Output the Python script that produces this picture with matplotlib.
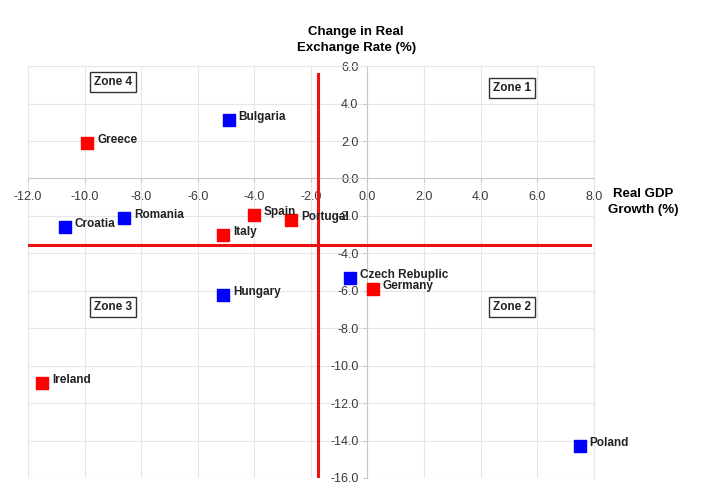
import matplotlib
matplotlib.use('Agg')
import matplotlib.pyplot as plt

plt.rcParams['font.family'] = ['Liberation Sans', 'DejaVu Sans']

# countries, grouped by marker colour
red_names = ['Greece', 'Spain', 'Portugal', 'Italy', 'Ireland', 'Germany']
red_gdp = [-9.9, -4.0, -2.7, -5.1, -11.5, 0.2]
red_rer = [1.9, -1.95, -2.2, -3.0, -10.9, -5.9]

blue_names = ['Bulgaria', 'Romania', 'Croatia', 'Hungary', 'Czech Rebuplic', 'Poland']
blue_gdp = [-4.9, -8.6, -10.7, -5.1, -0.6, 7.5]
blue_rer = [3.1, -2.1, -2.6, -6.2, -5.3, -14.3]

# quadrant divider lines
split_x = -1.75
split_y = -3.55

zones = ['Zone 1', 'Zone 2', 'Zone 3', 'Zone 4']
zone_x = [5.1, 5.1, -9.0, -9.0]
zone_y = [4.85, -6.85, -6.85, 5.15]

x_ticks = [-12, -10, -8, -6, -4, -2, 0, 2, 4, 6, 8]
y_ticks = [-16, -14, -12, -10, -8, -6, -4, -2, 0, 2, 4, 6]

fig = plt.figure(figsize=(7.01, 4.9), dpi=100)
ax = fig.add_axes([0.04, 0.0245, 0.807, 0.8405])
ax.set_xlim(-12, 8)
ax.set_ylim(-16, 6)

ax.set_xticks(x_ticks)
ax.set_yticks(y_ticks)
ax.set_xticklabels(['%.1f' % v for v in x_ticks])
ax.set_yticklabels(['%.1f' % v for v in y_ticks])
ax.grid(True, color='#e6e6e6', linewidth=0.8)
ax.set_axisbelow(True)

for side in ['top', 'right']:
    ax.spines[side].set_color('#e6e6e6')
ax.spines['left'].set_position(('data', 0))
ax.spines['bottom'].set_position(('data', 0))
ax.spines['left'].set_color('#c8c8c8')
ax.spines['bottom'].set_color('#c8c8c8')
ax.tick_params(colors='#c8c8c8', labelcolor='#3a3a3a', labelsize=9, length=3)
ax.tick_params(axis='x', pad=6)

ax.plot([split_x, split_x], [-16, 5.6], color='#ee1111', lw=2.2, zorder=3)
ax.plot([-12, 7.85], [split_y, split_y], color='#ee1111', lw=2.2, zorder=3)

ax.scatter(red_gdp, red_rer, marker='s', s=70, color='#ff0000', zorder=4)
ax.scatter(blue_gdp, blue_rer, marker='s', s=70, color='#0000ff', zorder=4)

for name, x, y in zip(red_names + blue_names, red_gdp + blue_gdp, red_rer + blue_rer):
    ax.annotate(name, (x, y), xytext=(7, 0), textcoords='offset points',
                fontsize=8.5, fontweight='bold', color='#222222', zorder=5)

for name, x, y in zip(zones, zone_x, zone_y):
    ax.text(x, y, name, ha='center', va='center', fontsize=8.5, fontweight='bold',
            color='#222222',
            bbox=dict(boxstyle='square,pad=0.35', fc='white', ec='#333333', lw=1))

fig.text(0.508, 0.918, 'Change in Real\nExchange Rate (%)', ha='center', va='center',
         fontsize=9.5, fontweight='bold', linespacing=1.5)
fig.text(0.917, 0.588, 'Real GDP\nGrowth (%)', ha='center', va='center',
         fontsize=9.5, fontweight='bold', linespacing=1.5)

fig.savefig('out.png', dpi=100)
